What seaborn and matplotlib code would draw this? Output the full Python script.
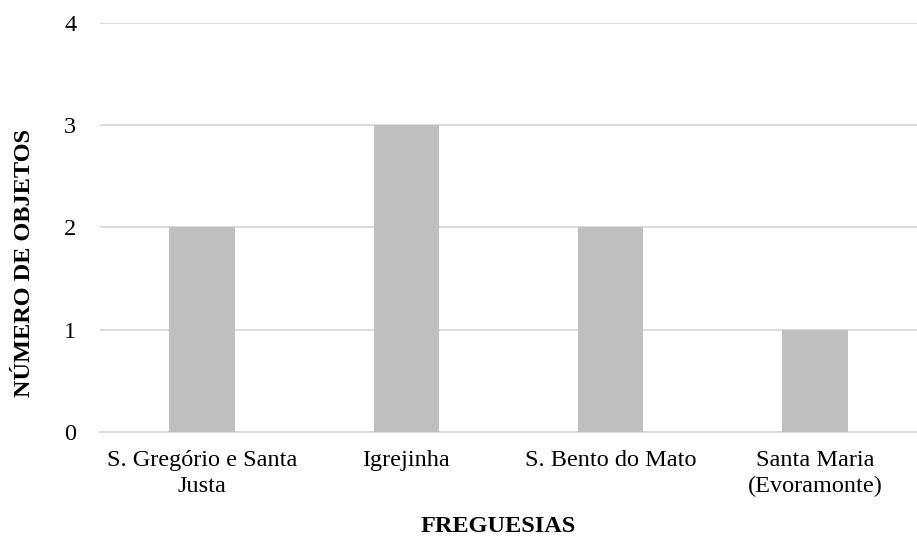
import matplotlib
matplotlib.use("Agg")
import matplotlib.pyplot as plt
import seaborn as sns
import pandas as pd

freguesias = ["S. Gregório e Santa\nJusta", "Igrejinha", "S. Bento do Mato", "Santa Maria\n(Evoramonte)"]
objetos = [2, 3, 2, 1]
y_ticks = [0, 1, 2, 3, 4]

sns.set_theme(style="white")
plt.rcParams["font.family"] = ["Liberation Serif", "DejaVu Serif"]
plt.rcParams["text.color"] = "black"
plt.rcParams["axes.labelcolor"] = "black"

df = pd.DataFrame({"freguesia": freguesias, "objetos": objetos})

fig = plt.figure(figsize=(9.17, 5.37), dpi=100)
ax = fig.add_axes([0.109, 0.1955, 0.891, 0.762])

sns.barplot(data=df, x="freguesia", y="objetos", color="#bfbfbf",
            width=0.32, saturation=1, linewidth=0, ax=ax, zorder=3)

ax.set_ylim(0, 4)
ax.set_yticks(y_ticks)
ax.yaxis.grid(True, color="#d9d9d9", linewidth=1.3, zorder=0)
ax.set_axisbelow(True)
for s in ["top", "right", "left"]:
    ax.spines[s].set_visible(False)
ax.spines["bottom"].set_color("#d9d9d9")
ax.spines["bottom"].set_linewidth(1.3)
ax.tick_params(axis="both", length=0, labelsize=17.5, colors="black")
ax.tick_params(axis="x", pad=13)
ax.tick_params(axis="y", pad=17)
for lbl in ax.get_xticklabels():
    lbl.set_linespacing(1.3)
ax.set_xlim(-0.5, 3.5)

ax.set_xlabel("FREGUESIAS", fontsize=17.5, fontweight="bold")
ax.set_ylabel("NÚMERO DE OBJETOS", fontsize=17.5, fontweight="bold")
ax.xaxis.set_label_coords(0.487, -0.205)
ax.yaxis.set_label_coords(-0.08, 0.412)

fig.savefig("out.png", dpi=100, facecolor="white")
